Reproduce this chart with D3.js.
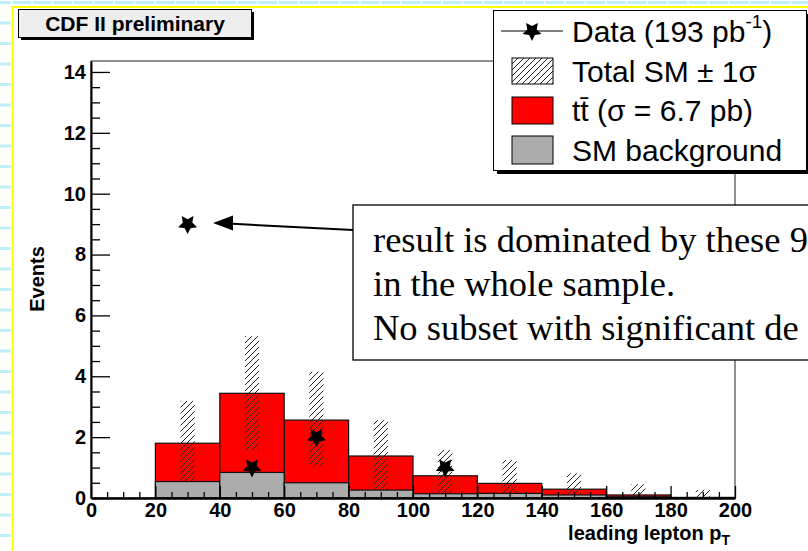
<!DOCTYPE html>
<html><head><meta charset="utf-8">
<script src="https://cdn.jsdelivr.net/npm/d3@7"></script>
<style>body{margin:0;overflow:hidden;background:#fff} svg{display:block}</style>
</head><body><svg id="c" width="808" height="551"></svg>
<script>
// ---------------- data ----------------
const binLow = [0, 20, 40, 60, 80, 100, 120, 140, 160, 180];
const binWidth = 20;
const smBackground = [0, 0.54, 0.84, 0.50, 0.26, 0.14, 0.15, 0.10, 0.04, 0.01];
const smTotal      = [0, 1.80, 3.44, 2.56, 1.38, 0.73, 0.48, 0.29, 0.10, 0.02];
const bandUp       = [0, 3.19, 5.32, 4.15, 2.56, 1.58, 1.25, 0.81, 0.45, 0.27];
const bandDown     = [0, 0.42, 1.58, 1.03, 0.20, 0.00, 0.00, 0.00, 0.00, 0.00];
const dataX = [30, 50, 70, 110];
const dataY = [9, 1, 2, 1];
const xTicks = [0, 20, 40, 60, 80, 100, 120, 140, 160, 180, 200];
const yTicks = [0, 2, 4, 6, 8, 10, 12, 14];
const titleText = "CDF II preliminary";
const yTitle = "Events";
const noteLines = ["result is dominated by these 9", "in the whole sample.", "No subset with significant de"];

// ---------------- layout ----------------
const W = 808, H = 551;
const svg = d3.select("#c");
const x = d3.scaleLinear().domain([0, 200]).range([91, 735]);
const y = d3.scaleLinear().domain([0, 14.36]).range([498, 61]);
const SANS = "'Liberation Sans', Arial, Helvetica, sans-serif";
const SERIF = "'Liberation Serif', 'Times New Roman', serif";

// defs: hatch
const defs = svg.append("defs");
defs.append("pattern").attr("id", "hatch").attr("patternUnits", "userSpaceOnUse")
  .attr("width", 6).attr("height", 6)
  .append("path").attr("d", "M-1,1 l2,-2 M0,6 l6,-6 M5,7 l2,-2")
  .attr("stroke", "#222").attr("stroke-width", 1);

// fat five-point star (ROOT style), pointing down
const fatStar = {
  draw(ctx, size) {
    const R = Math.sqrt(size) * 0.95, r = R * 0.5;
    for (let k = 0; k < 10; k++) {
      const rad = k % 2 === 0 ? R : r;
      const a = Math.PI / 2 + k * Math.PI / 5;
      const px = rad * Math.cos(a), py = rad * Math.sin(a);
      if (k === 0) ctx.moveTo(px, py); else ctx.lineTo(px, py);
    }
    ctx.closePath();
  }
};

// ---------------- background (graph paper + yellow border) ----------------
svg.append("rect").attr("width", W).attr("height", H).attr("fill", "#fff");
const bg = svg.append("g");
bg.selectAll("line.h").data(d3.range(0, 28)).join("line")
  .attr("x1", 0).attr("x2", W).attr("y1", k => 2.5 + 20.5 * k).attr("y2", k => 2.5 + 20.5 * k)
  .attr("stroke", "#bfeffa").attr("stroke-width", 3);
bg.selectAll("line.v").data(d3.range(0, 40)).join("line")
  .attr("x1", k => 11.5 + 20.5 * k).attr("x2", k => 11.5 + 20.5 * k).attr("y1", 0).attr("y2", H)
  .attr("stroke", "#fff").attr("stroke-width", 1.5);
svg.append("rect").attr("x", 12.5).attr("y", 7).attr("width", W + 20).attr("height", H + 20)
  .attr("fill", "#fff").attr("stroke", "#ffff00").attr("stroke-width", 2);

// ---------------- title box ----------------
svg.append("rect").attr("x", 21).attr("y", 12).attr("width", 233).attr("height", 28).attr("fill", "#000");
svg.append("rect").attr("x", 18.5).attr("y", 9.5).attr("width", 233).attr("height", 28)
  .attr("fill", "#eeeeee").attr("stroke", "#000").attr("stroke-width", 1);
svg.append("text").attr("x", 135).attr("y", 31).attr("text-anchor", "middle")
  .attr("font-family", SANS).attr("font-weight", "bold").attr("font-size", 21).text(titleText);

// ---------------- histograms ----------------
const bins = binLow.map((b, i) => ({ lo: b, hi: b + binWidth, bkg: smBackground[i], tot: smTotal[i], up: bandUp[i], dn: bandDown[i] }));
const plot = svg.append("g");
plot.selectAll("rect.tot").data(bins.filter(d => d.tot > 0)).join("rect")
  .attr("x", d => x(d.lo)).attr("width", d => x(d.hi) - x(d.lo))
  .attr("y", d => y(d.tot)).attr("height", d => y(0) - y(d.tot))
  .attr("fill", "#ff0000").attr("stroke", "#111").attr("stroke-width", 1.2);
plot.selectAll("rect.band").data(bins.filter(d => d.up > 0)).join("rect")
  .attr("x", d => x(d.lo + 7.8)).attr("width", d => x(d.lo + 12.2) - x(d.lo + 7.8))
  .attr("y", d => y(d.up)).attr("height", d => y(d.dn) - y(d.up))
  .attr("fill", "url(#hatch)");
plot.selectAll("rect.bkg").data(bins.filter(d => d.bkg > 0)).join("rect")
  .attr("x", d => x(d.lo)).attr("width", d => x(d.hi) - x(d.lo))
  .attr("y", d => y(d.bkg)).attr("height", d => y(0) - y(d.bkg))
  .attr("fill", "#acacac").attr("stroke", "#111").attr("stroke-width", 1.2);

// frame
svg.append("rect").attr("x", x(0)).attr("y", y(14.36)).attr("width", x(200) - x(0)).attr("height", y(0) - y(14.36))
  .attr("fill", "none").attr("stroke", "#222").attr("stroke-width", 1);

// ---------------- axes ----------------
const axX = svg.append("g").attr("transform", `translate(0,${y(0)})`)
  .call(d3.axisBottom(x).tickValues(xTicks).tickFormat(d3.format("d")).tickSizeInner(-12).tickSizeOuter(0).tickPadding(5));
svg.append("g").attr("transform", `translate(0,${y(0)})`)
  .call(d3.axisBottom(x).tickValues(d3.range(0, 201, 5).filter(v => v % 20 !== 0)).tickFormat("").tickSizeInner(-6).tickSizeOuter(0))
  .select(".domain").remove();
const axY = svg.append("g").attr("transform", `translate(${x(0)},0)`)
  .call(d3.axisLeft(y).tickValues(yTicks).tickFormat(d3.format("d")).tickSizeInner(-19).tickSizeOuter(0).tickPadding(5));
svg.append("g").attr("transform", `translate(${x(0)},0)`)
  .call(d3.axisLeft(y).tickValues(d3.range(0, 14.01, 0.5).filter(v => v % 2 !== 0)).tickFormat("").tickSizeInner(-9).tickSizeOuter(0))
  .select(".domain").remove();
svg.selectAll(".tick line").attr("stroke", "#000").attr("stroke-width", 1.3);
axX.select(".domain").attr("stroke", "#000").attr("stroke-width", 2.5);
axY.select(".domain").attr("stroke", "#000").attr("stroke-width", 2);
svg.selectAll(".tick text").attr("font-family", SANS).attr("font-weight", "bold").attr("font-size", 20).attr("fill", "#000");

// axis titles
svg.append("text").attr("transform", "translate(44,279) rotate(-90)").attr("text-anchor", "middle")
  .attr("font-family", SANS).attr("font-weight", "bold").attr("font-size", 20).text(yTitle);
const xt = svg.append("text").attr("x", 730).attr("y", 540).attr("text-anchor", "end")
  .attr("font-family", SANS).attr("font-weight", "bold").attr("font-size", 20);
xt.append("tspan").text("leading lepton p");
xt.append("tspan").attr("font-size", 14).attr("dy", 5).text("T");

// ---------------- data points ----------------
const star = d3.symbol().type(fatStar).size(110);
svg.selectAll("path.data").data(dataX.map((v, i) => [v, dataY[i]])).join("path")
  .attr("d", star).attr("transform", d => `translate(${x(d[0])},${y(d[1])})`)
  .attr("fill", "#000");

// ---------------- annotation ----------------
svg.append("line").attr("x1", 353).attr("y1", 230).attr("x2", 228).attr("y2", 223.6)
  .attr("stroke", "#000").attr("stroke-width", 2);
svg.append("path").attr("d", "M213,223 L233,215.5 L233,230.5 Z").attr("fill", "#000");
svg.append("rect").attr("x", 353).attr("y", 205).attr("width", 500).attr("height", 155)
  .attr("fill", "#fff").attr("stroke", "#000").attr("stroke-width", 1.3);
svg.append("g").selectAll("text").data(noteLines).join("text")
  .attr("x", 373).attr("y", (d, i) => 252 + 44 * i)
  .attr("font-family", SERIF).attr("font-size", 36.5).attr("fill", "#000").text(d => d);

// ---------------- legend ----------------
const lg = svg.append("g");
lg.append("rect").attr("x", 497).attr("y", 14).attr("width", 313).attr("height", 160).attr("fill", "#000");
lg.append("rect").attr("x", 493.5).attr("y", 10.5).attr("width", 313).attr("height", 160)
  .attr("fill", "#fff").attr("stroke", "#000").attr("stroke-width", 1);
const rowY = [31, 71, 110, 150];
lg.append("line").attr("x1", 501).attr("x2", 563).attr("y1", rowY[0]).attr("y2", rowY[0]).attr("stroke", "#000").attr("stroke-width", 1);
lg.append("path").attr("d", star).attr("transform", `translate(532,${rowY[0]})`).attr("fill", "#000");
lg.append("rect").attr("x", 512).attr("y", rowY[1] - 13).attr("width", 41).attr("height", 26)
  .attr("fill", "url(#hatch)").attr("stroke", "#000").attr("stroke-width", 1);
lg.append("rect").attr("x", 512).attr("y", rowY[2] - 13).attr("width", 41).attr("height", 27)
  .attr("fill", "#ff0000").attr("stroke", "#000").attr("stroke-width", 1);
lg.append("rect").attr("x", 512).attr("y", rowY[3] - 14).attr("width", 41).attr("height", 28)
  .attr("fill", "#acacac").attr("stroke", "#000").attr("stroke-width", 1);
const lt = (i) => lg.append("text").attr("x", 572).attr("y", rowY[i] + 10.5)
  .attr("font-family", SANS).attr("font-size", 30).attr("fill", "#000");
const t0 = lt(0);
t0.append("tspan").text("Data (193 pb");
t0.append("tspan").attr("font-size", 19).attr("dy", -14).text("-1");
t0.append("tspan").attr("dy", 14).text(")");
lt(1).text("Total SM \u00B1 1\u03C3");
lt(2).text("tt\u0304 (\u03C3 = 6.7 pb)");
lt(3).text("SM background");
</script></body></html>
